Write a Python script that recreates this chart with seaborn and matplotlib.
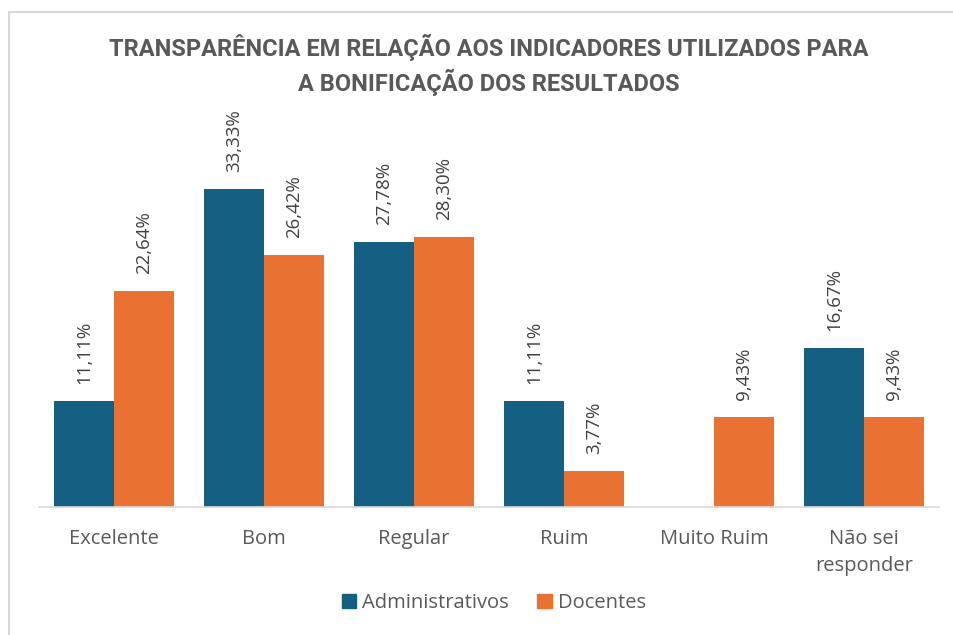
import matplotlib
matplotlib.use("Agg")
import matplotlib.pyplot as plt
from matplotlib import font_manager
from matplotlib.lines import Line2D
import seaborn as sns
import pandas as pd

categories = ["Excelente", "Bom", "Regular", "Ruim", "Muito Ruim", "Não sei\nresponder"]
series_names = ["Administrativos", "Docentes"]
administrativos = [11.11, 33.33, 27.78, 11.11, 0.0, 16.67]
docentes = [22.64, 26.42, 28.30, 3.77, 9.43, 9.43]
title = "TRANSPARÊNCIA EM RELAÇÃO AOS INDICADORES UTILIZADOS PARA\nA BONIFICAÇÃO DOS RESULTADOS"
colors = ["#156082", "#E97132"]

available = {f.name for f in font_manager.fontManager.ttflist}
def pick(*names):
    for n in names:
        if n in available:
            return n
    return "DejaVu Sans"

body_font = pick("Open Sans", "Lato", "Noto Sans", "DejaVu Sans")
title_font = pick("Liberation Sans Narrow", "DejaVu Sans Condensed", "Roboto", "DejaVu Sans")

sns.set_theme(style="white")
plt.rcParams["font.family"] = [body_font, "DejaVu Sans"]

df = pd.DataFrame({
    "cat": categories * 2,
    "serie": [series_names[0]] * len(categories) + [series_names[1]] * len(categories),
    "val": administrativos + docentes,
})

fig = plt.figure(figsize=(9.54, 6.35), dpi=100)
ax = fig.add_axes([39 / 954, 1 - 507 / 635, 900 / 954, (507 - 130) / 635])

sns.barplot(data=df, x="cat", y="val", hue="serie", palette=colors, order=categories,
            hue_order=series_names, width=0.8, linewidth=0, saturation=1, ax=ax, legend=False)

ax.set_xlim(-0.5, len(categories) - 0.5)
ax.set_ylim(0, (507 - 130) / 9.54)
for s in ["left", "right", "top"]:
    ax.spines[s].set_visible(False)
ax.spines["bottom"].set_color("#d9d9d9")
ax.spines["bottom"].set_linewidth(1.2)
ax.set_yticks([])
ax.set_xlabel("")
ax.set_ylabel("")
ax.tick_params(axis="x", length=0, pad=16, labelsize=14.5, labelcolor="#595959")
for lbl in ax.get_xticklabels():
    lbl.set_linespacing(1.45)
    lbl.set_verticalalignment("top")

for container in ax.containers:
    for patch in container.patches:
        h = patch.get_height()
        if h <= 0:
            continue
        x = patch.get_x() + patch.get_width() / 2
        ax.annotate(f"{h:.2f}".replace(".", ",") + "%", (x, h), xytext=(0, 12),
                    textcoords="offset points", rotation=90, ha="center", va="bottom",
                    fontsize=13.5, color="#404040")

fig.text(489 / 954, 1 - 65 / 635, title, ha="center", va="center", fontsize=17,
         fontweight="bold", color="#595959", family=[title_font, "DejaVu Sans"],
         linespacing=1.35)

handles = [plt.Rectangle((0, 0), 1, 1, color=c) for c in colors]
fig.legend(handles, series_names, loc="center", bbox_to_anchor=(494 / 954, 1 - 603 / 635),
           ncol=2, frameon=False, fontsize=14.5, handlelength=0.7, handleheight=0.7,
           handletextpad=0.3, columnspacing=1.4, labelcolor="#595959")

fig.add_artist(Line2D([9 / 954, 9 / 954], [0, 1 - 12 / 635], transform=fig.transFigure,
                      color="#d9d9d9", linewidth=1.5))
fig.add_artist(Line2D([9 / 954, 1], [1 - 12 / 635, 1 - 12 / 635], transform=fig.transFigure,
                      color="#d9d9d9", linewidth=1.5))

fig.savefig("out.png", dpi=100)
